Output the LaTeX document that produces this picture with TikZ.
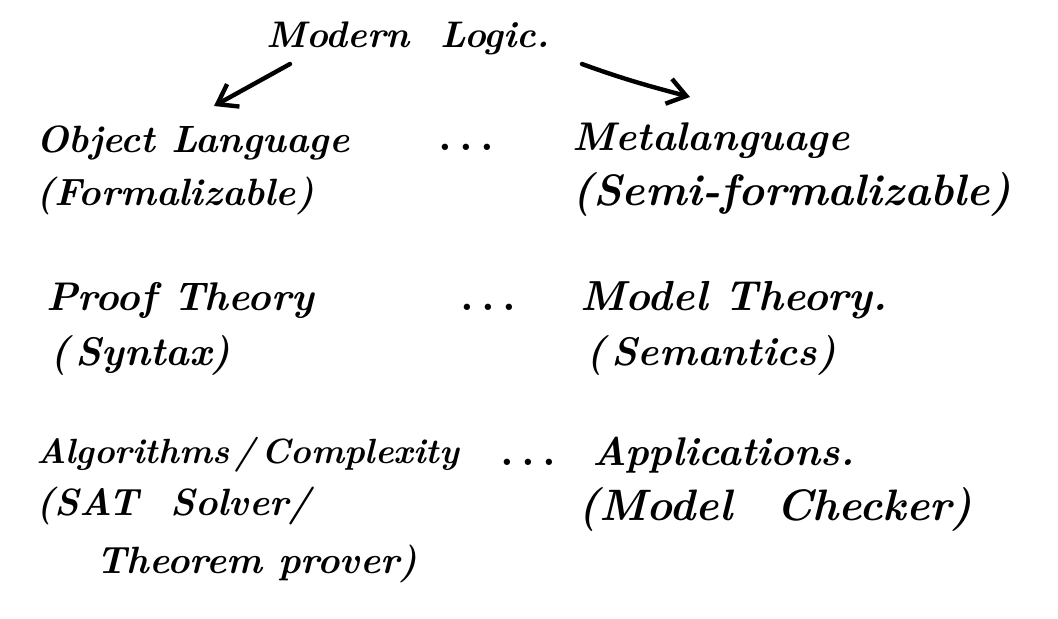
\documentclass[tikz,border=0pt]{standalone}
\usepackage{fontspec}
\usepackage{tikz}
\usetikzlibrary{arrows.meta}

\tikzset{
  hw/.style={anchor=base west,inner sep=0pt,font=\fontsize{#1}{#1}\selectfont\bfseries\itshape},
  hw/.default=19,
  dots/.style={anchor=base,inner sep=0pt,font=\fontsize{22}{22}\selectfont\bfseries},
  hand/.style={line width=2.2pt,line cap=round,-{Straight Barb[length=3.2mm,width=4.5mm,line width=2.2pt]}}
}

\begin{document}
\begin{tikzpicture}[x=0.5pt,y=-0.5pt]
\useasboundingbox (0,0) rectangle (1058,618);
% title and the two arrows
\node[hw=18.5] (title) at (266,47) {Modern\ \ Logic.};
\coordinate (l1) at (290,64); \coordinate (l2) at (214,106);
\coordinate (r1) at (582,64); \coordinate (r2) at (690,97);
\draw[hand] (l1)--(l2);
\draw[hand] (r1) to[out=-20,in=165] (r2);
% left column
\node[hw] (obj) at (36,152) {Object Language};
\node[hw] (objs) at (36,205) {(Formalizable)};
\node[hw=20] (proof) at (46,310) {Proof Theory};
\node[hw=20] (proofs) at (50,365) {(\,Syntax)};
\node[hw=17.5] (alg) at (36,463) {Algorithms\,/\,Complexity};
\node[hw] (alga) at (36,515) {(SAT\ \ Solver/};
\node[hw] (algb) at (96,573) {Theorem\ prover)};
% dots in between
\node[dots] (d1) at (466,150) {.\,.\,.};
\node[dots] (d2) at (488,310) {.\,.\,.};
\node[dots] (d3) at (528,465) {.\,.\,.};
% right column
\node[hw=20] (meta) at (572,150) {Metalanguage};
\node[hw=22] (metas) at (572,205) {(Semi-formalizable)};
\node[hw=21] (model) at (580,310) {Model Theory.};
\node[hw=20] (models) at (586,365) {(\,Semantics)};
\node[hw=20] (app) at (592,465) {Applications.};
\node[hw=22] (apps) at (578,520) {(Model\quad Checker)};
\end{tikzpicture}
\end{document}
